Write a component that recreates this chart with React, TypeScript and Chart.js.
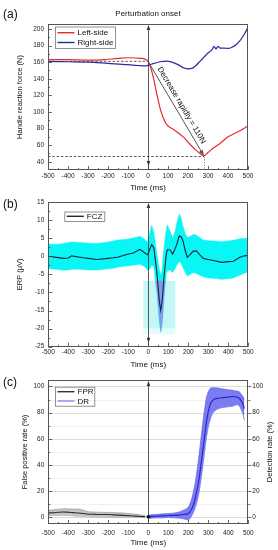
import React, { useEffect, useRef } from "react";
import { Chart, registerables } from "chart.js";

Chart.register(...registerables);

const FONT = "'Liberation Sans', Arial, Helvetica, sans-serif";

// ---------- tick labels ----------
const timeTicks = [-500, -400, -300, -200, -100, 0, 100, 200, 300, 400, 500];
const forceTicks = [40, 60, 80, 100, 120, 140, 160, 180, 200];
const erpTicks = [-25, -20, -15, -10, -5, 0, 5, 10, 15];
const rateTicks = [0, 20, 40, 60, 80, 100];

// ---------- panel (a): handle reaction force ----------
const leftSideTime = [-500, -400, -300, -250, -200, -150, -100, -60, -30, -10, 0, 10, 20, 30, 40, 50, 60, 70, 80, 90, 100, 120, 150, 180, 210, 240, 260, 280, 300, 330, 360, 400, 450, 500];
const leftSideForce = [163, 163, 162.5, 162.5, 163.5, 164.5, 165.3, 165, 164.5, 163, 161, 156, 148, 138, 126, 115, 105, 97, 91, 86, 83, 80, 75, 69, 61, 54, 50, 47, 51, 57, 62, 70, 76, 83];
const rightSideTime = [-500, -400, -300, -200, -100, -50, -10, 10, 30, 60, 90, 120, 150, 180, 200, 220, 240, 260, 280, 300, 320, 330, 340, 350, 360, 380, 400, 420, 440, 460, 480, 500];
const rightSideForce = [161, 160.5, 160, 158.5, 157, 156, 155.5, 157, 158.5, 160.5, 161.3, 160, 157, 153, 152, 152.5, 156, 161, 166, 171, 175, 179, 176, 179, 177, 177, 176.5, 178, 181, 186, 193, 202];
const onsetForce = 161;
const minForce = 47;
const minForceTime = 280;
const dropLabel = "Decrease rapidly = 110N";

// ---------- panel (b): ERP ----------
const erpTime = [-500, -450, -425, -400, -383, -350, -325, -300, -258, -200, -175, -150, -108, -75, -42, -17, -3, 8, 17, 28, 35, 42, 50, 55, 62, 68, 72, 78, 83, 90, 95, 108, 122, 135, 142, 155, 165, 172, 185, 195, 210, 225, 242, 260, 275, 300, 325, 367, 400, 425, 458, 480, 500];
const fczMean = [0, -0.4, -0.6, -0.5, 0.1, -0.2, -0.45, -0.6, -0.9, -0.6, -0.45, -0.2, 0.45, 0.9, 1.9, 0.9, 0.4, 2.0, 3.2, 2.3, -1, -4.1, -9, -12.3, -15, -13, -10.5, -6, -3.2, 0.5, 1.8, 1.8, 0.6, 2.2, 3.2, 5.6, 5.3, 4.5, 1.5, -0.3, 0.5, 1.4, 1.4, 0.2, -0.6, -0.9, -1.2, -1.7, -1.5, -1.4, -0.3, 0.1, 0.2];
const fczUpper = [3.3, 3.3, 3.5, 3.8, 3.9, 3.8, 3.7, 3.6, 3.5, 3.9, 4.2, 4.5, 4.7, 5.0, 5.5, 4.6, 3.8, 6.5, 8.6, 6.5, 3.5, 1, -2, -3.5, -5.5, -4, -1.5, 2, 4.5, 7.5, 8.6, 7, 5, 7, 9, 11.7, 10.5, 8.5, 6.2, 5.2, 5.5, 6, 5.8, 5, 4.5, 4.3, 4.2, 4, 4.2, 4.4, 4.8, 4.9, 5.0];
const fczLower = [-3.4, -3.7, -3.9, -3.8, -3.6, -3.6, -3.7, -3.8, -3.8, -3.5, -3.3, -3.0, -2.7, -2.5, -2.2, -2.9, -3.9, -3.5, -2.5, -3, -6.5, -9.5, -14.5, -18, -21, -19.5, -17, -12, -8.5, -5, -4, -3.8, -4.5, -3.3, -2.5, -1.5, -2, -3, -4.5, -5.5, -5, -4.5, -4.8, -5.3, -5.7, -6, -6.1, -6.4, -6.2, -6, -5.2, -4.7, -4.3];
const windowTime = [-25, 135];
const windowErp = [-6.8, -20, -21.5];

// ---------- panel (c): FPR / DR ----------
const fprTime = [-500, -475, -450, -425, -400, -375, -350, -325, -300, -275, -250, -225, -200, -175, -150, -125, -100, -75, -50, -25, -15];
const fprMean = [3.4, 3.6, 4, 4.2, 4, 3.7, 3.4, 3, 2.5, 2.4, 2.3, 2.3, 2.2, 2, 1.8, 1.6, 1.4, 1.1, 0.9, 0.6, 0.5];
const fprUpper = [5.4, 5.8, 6.3, 6.6, 6.5, 6.4, 6.4, 5.5, 4.4, 4.2, 4, 3.9, 3.8, 3.6, 3.5, 3.4, 3, 2.6, 2.2, 1.6, 1.4];
const fprLower = [1.5, 1.5, 1.6, 1.7, 1.5, 1.2, 1, 0.8, 0.5, 0.4, 0.3, 0.2, 0, 0, 0, 0, 0, 0, 0, 0, 0];
const drTime = [0, 25, 50, 75, 100, 125, 150, 175, 200, 210, 220, 230, 240, 250, 260, 270, 280, 290, 300, 310, 320, 330, 350, 375, 400, 425, 440, 455, 465, 475, 480];
const drMean = [0.5, 0.8, 1, 1.2, 1.5, 1.6, 1.8, 2.2, 3, 4.5, 7.5, 12, 18, 26, 36, 48, 60, 72, 81, 86.5, 89, 90.5, 91, 91.5, 92, 92.3, 92, 91, 89, 86, 83];
const drUpper = [1.8, 2.2, 2.5, 2.8, 3, 3.3, 4, 5.5, 8, 11, 16, 23, 32, 43, 56, 69, 81, 91, 96, 98.5, 99, 99, 98.8, 98, 97.5, 97, 96.5, 96, 94, 92, 90];
const drLower = [-0.8, -0.5, -0.3, -0.3, 0, -0.3, -0.5, -1, -2, -0.5, 2, 5.5, 10, 16, 25, 36, 48, 60, 69, 75, 79, 81, 83, 84, 84.5, 85, 86, 85, 82, 78, 74];

// ---------- helpers ----------
const pts = (xs: number[], ys: number[]) => xs.map((x, i) => ({ x, y: ys[i] }));

function timeScale(xHeight: number, tickPad: number, titlePad: number) {
  return {
    type: "linear",
    position: "bottom",
    min: -500,
    max: 500,
    afterBuildTicks: (s: any) => {
      s.ticks = timeTicks.map((v) => ({ value: v }));
    },
    afterFit: (s: any) => {
      s.height = xHeight;
    },
    grid: { display: false, drawTicks: false },
    border: { display: false },
    ticks: { font: { family: FONT, size: 6.5 }, color: "#222", padding: tickPad, maxRotation: 0, minRotation: 0, autoSkip: false },
    title: { display: true, text: "Time (ms)", font: { family: FONT, size: 8 }, color: "#111", padding: { top: 0, bottom: titlePad } },
  };
}

function valueScale(min: number, max: number, ticks: number[], title: string | null, titlePad: number, width: number, position = "left") {
  return {
    type: "linear",
    position,
    min,
    max,
    afterBuildTicks: (s: any) => {
      s.ticks = ticks.map((v) => ({ value: v }));
    },
    afterFit: (s: any) => {
      s.width = width;
    },
    grid: { display: false, drawTicks: false },
    border: { display: false },
    ticks: { font: { family: FONT, size: 6.5 }, color: "#222", padding: 4 },
    title: title
      ? { display: true, text: title, font: { family: FONT, size: 7.5 }, color: "#111", padding: { top: titlePad, bottom: 0 } }
      : { display: false },
  };
}

function arrowHead(ctx: CanvasRenderingContext2D, tx: number, ty: number, ang: number, len = 5, half = 1.8) {
  const c = Math.cos(ang), s = Math.sin(ang);
  ctx.beginPath();
  ctx.moveTo(tx, ty);
  ctx.lineTo(tx - len * c + half * s, ty - len * s - half * c);
  ctx.lineTo(tx - len * c - half * s, ty - len * s + half * c);
  ctx.closePath();
  ctx.fill();
}

function drawFrameAndTicks(chart: any, yId: string, yTicks: number[], rightId?: string) {
  const { ctx, chartArea: a, scales } = chart;
  const xs = scales.x;
  const ys = scales[yId];
  ctx.save();
  ctx.strokeStyle = "#444";
  ctx.lineWidth = 0.8;
  ctx.beginPath();
  for (let i = 0; i < timeTicks.length; i++) {
    const px = Math.round(xs.getPixelForValue(timeTicks[i])) + 0.5;
    ctx.moveTo(px, a.bottom);
    ctx.lineTo(px, a.bottom - 4);
    if (i < timeTicks.length - 1) {
      const mx = Math.round(xs.getPixelForValue((timeTicks[i] + timeTicks[i + 1]) / 2)) + 0.5;
      ctx.moveTo(mx, a.bottom);
      ctx.lineTo(mx, a.bottom - 2);
    }
  }
  const minors: number[] = [];
  for (let i = 0; i < yTicks.length - 1; i++) minors.push((yTicks[i] + yTicks[i + 1]) / 2);
  for (const v of yTicks) {
    const py = Math.round(ys.getPixelForValue(v)) + 0.5;
    ctx.moveTo(a.left, py);
    ctx.lineTo(a.left + 4, py);
    if (rightId) {
      ctx.moveTo(a.right, py);
      ctx.lineTo(a.right + 3, py);
    }
  }
  for (const v of minors) {
    const py = Math.round(ys.getPixelForValue(v)) + 0.5;
    ctx.moveTo(a.left, py);
    ctx.lineTo(a.left + 2, py);
    if (rightId) {
      ctx.moveTo(a.right, py);
      ctx.lineTo(a.right + 2, py);
    }
  }
  ctx.stroke();
  ctx.strokeStyle = "#555";
  ctx.lineWidth = 1;
  ctx.strokeRect(Math.round(a.left) + 0.5, Math.round(a.top) + 0.5, Math.round(a.right - a.left) - 1, Math.round(a.bottom - a.top) - 1);
  ctx.restore();
}

function drawLegend(ctx: CanvasRenderingContext2D, box: number[], items: { label: string; color: string; y: number }[]) {
  ctx.save();
  ctx.strokeStyle = "#777";
  ctx.lineWidth = 0.8;
  ctx.strokeRect(box[0] + 0.5, box[1] + 0.5, box[2], box[3]);
  ctx.font = `8px ${FONT}`;
  ctx.textBaseline = "middle";
  ctx.textAlign = "left";
  for (const it of items) {
    ctx.strokeStyle = it.color;
    ctx.lineWidth = 1.4;
    ctx.beginPath();
    ctx.moveTo(box[0] + 2.5, it.y);
    ctx.lineTo(box[0] + 19.5, it.y);
    ctx.stroke();
    ctx.fillStyle = "#111";
    ctx.fillText(it.label, box[0] + 22.5, it.y + 0.5);
  }
  ctx.restore();
}

function drawPanelLabel(ctx: CanvasRenderingContext2D, text: string, y: number) {
  ctx.save();
  ctx.font = `12px ${FONT}`;
  ctx.fillStyle = "#111";
  ctx.textAlign = "left";
  ctx.textBaseline = "middle";
  ctx.fillText(text, 3, y);
  ctx.restore();
}

const commonOpts = {
  responsive: false,
  animation: false,
  events: [],
  plugins: { legend: { display: false }, tooltip: { enabled: false } },
  elements: { point: { radius: 0, hoverRadius: 0 } },
};

// ---------- panel configs ----------
function configA(): any {
  const plugin = {
    id: "panelA",
    beforeDatasetsDraw(chart: any) {
      const { ctx, chartArea: a, scales } = chart;
      const xs = scales.x, ys = scales.y;
      ctx.save();
      ctx.strokeStyle = "#333";
      ctx.lineWidth = 0.8;
      ctx.setLineDash([2.5, 1.8]);
      ctx.beginPath();
      const yOn = ys.getPixelForValue(onsetForce);
      ctx.moveTo(a.left, yOn);
      ctx.lineTo(xs.getPixelForValue(0), yOn);
      const yMin = Math.round(ys.getPixelForValue(minForce)) + 0.5;
      ctx.moveTo(a.left, yMin);
      ctx.lineTo(xs.getPixelForValue(minForceTime), yMin);
      ctx.stroke();
      ctx.setLineDash([1.2, 1.5]);
      ctx.strokeStyle = "#666";
      ctx.beginPath();
      const xMin = Math.round(xs.getPixelForValue(minForceTime)) + 0.5;
      ctx.moveTo(xMin, yMin);
      ctx.lineTo(xMin, a.bottom);
      ctx.stroke();
      ctx.restore();
    },
    afterDatasetsDraw(chart: any) {
      const { ctx, chartArea: a, scales } = chart;
      const xs = scales.x, ys = scales.y;
      ctx.save();
      const x0 = Math.round(xs.getPixelForValue(0)) + 0.5;
      ctx.strokeStyle = "#333";
      ctx.fillStyle = "#333";
      ctx.lineWidth = 0.8;
      ctx.beginPath();
      ctx.moveTo(x0, a.top + 2);
      ctx.lineTo(x0, a.bottom);
      ctx.stroke();
      arrowHead(ctx, x0, a.top + 1, -Math.PI / 2, 5, 1.8);
      arrowHead(ctx, x0, a.bottom - 4, Math.PI / 2, 5, 1.8);

      // diagonal arrow
      const p0 = { x: xs.getPixelForValue(0), y: ys.getPixelForValue(onsetForce) };
      const p1 = { x: xs.getPixelForValue(minForceTime), y: ys.getPixelForValue(minForce) };
      const ang = Math.atan2(p1.y - p0.y, p1.x - p0.x);
      ctx.strokeStyle = "#555";
      ctx.fillStyle = "#555";
      ctx.lineWidth = 1;
      ctx.beginPath();
      ctx.moveTo(p0.x, p0.y);
      ctx.lineTo(p1.x - 3 * Math.cos(ang), p1.y - 3 * Math.sin(ang));
      ctx.stroke();
      arrowHead(ctx, p1.x, p1.y, ang, 6, 2);
      const mx = (p0.x + p1.x) / 2 + 6.5 * Math.sin(ang);
      const my = (p0.y + p1.y) / 2 - 6.5 * Math.cos(ang);
      ctx.translate(mx, my);
      ctx.rotate(ang);
      ctx.fillStyle = "#111";
      ctx.font = `8px ${FONT}`;
      ctx.textAlign = "center";
      ctx.textBaseline = "middle";
      ctx.fillText(dropLabel, 0, 0);
      ctx.restore();

      drawFrameAndTicks(chart, "y", forceTicks);
      drawLegend(ctx, [55, 26.5, 60, 21.5], [
        { label: "Left-side", color: "#ec2a2a", y: 32.7 },
        { label: "Right-side", color: "#2b2b9e", y: 42.5 },
      ]);
      ctx.save();
      ctx.font = `8px ${FONT}`;
      ctx.fillStyle = "#111";
      ctx.textAlign = "center";
      ctx.textBaseline = "middle";
      ctx.fillText("Perturbation onset", xs.getPixelForValue(0), 14);
      ctx.restore();
      drawPanelLabel(ctx, "(a)", 15);
    },
  };
  return {
    type: "line",
    data: {
      datasets: [
        { data: pts(leftSideTime, leftSideForce), borderColor: "#ec2a2a", borderWidth: 1.2, cubicInterpolationMode: "monotone", fill: false },
        { data: pts(rightSideTime, rightSideForce), borderColor: "#2b2b9e", borderWidth: 1.2, cubicInterpolationMode: "monotone", fill: false },
      ],
    },
    options: {
      ...commonOpts,
      layout: { padding: { top: 24, right: 30, left: 0, bottom: 0 } },
      scales: {
        x: timeScale(24, 2, 1.2),
        y: valueScale(30, 206, forceTicks, "Handle reaction force (N)", 15, 48),
      },
    },
    plugins: [plugin],
  };
}

function configB(): any {
  const plugin = {
    id: "panelB",
    beforeDatasetsDraw(chart: any) {
      const { ctx, scales } = chart;
      const xs = scales.x, ys = scales.y;
      const l = xs.getPixelForValue(windowTime[0]);
      const r = xs.getPixelForValue(windowTime[1]);
      const t = ys.getPixelForValue(windowErp[0]);
      const m = ys.getPixelForValue(windowErp[1]);
      const b = ys.getPixelForValue(windowErp[2]);
      ctx.save();
      ctx.fillStyle = "#c4f6f6";
      ctx.fillRect(l, t, r - l, m - t);
      ctx.fillStyle = "#e2fbfb";
      ctx.fillRect(l, m, r - l, b - m);
      ctx.restore();
    },
    afterDatasetDraw(chart: any, args: any) {
      if (args.index !== 1) return;
      const { ctx, scales } = chart;
      const xs = scales.x, ys = scales.y;
      const l = xs.getPixelForValue(windowTime[0]);
      const r = xs.getPixelForValue(windowTime[1]);
      const t = ys.getPixelForValue(windowErp[0]);
      const b = ys.getPixelForValue(windowErp[2]);
      ctx.save();
      ctx.beginPath();
      ctx.rect(l, t, r - l, b - t);
      ctx.clip();
      ctx.beginPath();
      erpTime.forEach((x, i) => {
        const px = xs.getPixelForValue(x), py = ys.getPixelForValue(fczUpper[i]);
        if (i === 0) ctx.moveTo(px, py);
        else ctx.lineTo(px, py);
      });
      for (let i = erpTime.length - 1; i >= 0; i--) {
        ctx.lineTo(xs.getPixelForValue(erpTime[i]), ys.getPixelForValue(fczLower[i]));
      }
      ctx.closePath();
      ctx.fillStyle = "#8698ee";
      ctx.fill();
      ctx.restore();
    },
    afterDatasetsDraw(chart: any) {
      const { ctx, chartArea: a, scales } = chart;
      const xs = scales.x;
      ctx.save();
      const x0 = Math.round(xs.getPixelForValue(0)) + 0.5;
      ctx.strokeStyle = "#333";
      ctx.fillStyle = "#333";
      ctx.lineWidth = 0.8;
      ctx.beginPath();
      ctx.moveTo(x0, a.top + 2);
      ctx.lineTo(x0, a.bottom);
      ctx.stroke();
      arrowHead(ctx, x0, a.top + 1, -Math.PI / 2, 5, 1.8);
      arrowHead(ctx, x0, a.bottom - 4, Math.PI / 2, 5, 1.8);
      ctx.restore();
      drawFrameAndTicks(chart, "y", erpTicks);
      drawLegend(ctx, [64.3, 17.5, 40, 9.5], [{ label: "FCZ", color: "#1a2a3a", y: 22.3 }]);
      drawPanelLabel(ctx, "(b)", 11);
    },
  };
  return {
    type: "line",
    data: {
      datasets: [
        { data: pts(erpTime, fczMean), borderColor: "#14263a", borderWidth: 1.1, tension: 0, fill: false },
        { data: pts(erpTime, fczUpper), borderColor: "#08f4f4", borderWidth: 0.5, backgroundColor: "#08f6f6", tension: 0, fill: "+1" },
        { data: pts(erpTime, fczLower), borderColor: "#08f4f4", borderWidth: 0.5, tension: 0, fill: false },
      ],
    },
    options: {
      ...commonOpts,
      layout: { padding: { top: 6, right: 29.7, left: 0, bottom: 0 } },
      scales: {
        x: timeScale(25.3, 2, 2.2),
        y: valueScale(-25, 15, erpTicks, "ERP (μV)", 15.5, 48.3),
      },
    },
    plugins: [plugin],
  };
}

function configC(): any {
  const plugin = {
    id: "panelC",
    beforeDatasetsDraw(chart: any) {
      const { ctx, chartArea: a, scales } = chart;
      const ys = scales.y;
      ctx.save();
      ctx.lineWidth = 0.8;
      for (let i = 0; i < rateTicks.length; i++) {
        const py = Math.round(ys.getPixelForValue(rateTicks[i])) + 0.5;
        ctx.strokeStyle = "#d4d4d4";
        ctx.beginPath();
        ctx.moveTo(a.left, py);
        ctx.lineTo(a.right, py);
        ctx.stroke();
        if (i < rateTicks.length - 1) {
          const pm = Math.round(ys.getPixelForValue((rateTicks[i] + rateTicks[i + 1]) / 2)) + 0.5;
          ctx.strokeStyle = "#ededed";
          ctx.beginPath();
          ctx.moveTo(a.left, pm);
          ctx.lineTo(a.right, pm);
          ctx.stroke();
        }
      }
      ctx.restore();
    },
    afterDatasetsDraw(chart: any) {
      const { ctx, chartArea: a, scales } = chart;
      const xs = scales.x, ys = scales.y;
      ctx.save();
      const x0 = Math.round(xs.getPixelForValue(0)) + 0.5;
      ctx.strokeStyle = "#333";
      ctx.fillStyle = "#333";
      ctx.lineWidth = 0.8;
      ctx.beginPath();
      ctx.moveTo(x0, a.top + 2);
      ctx.lineTo(x0, a.bottom);
      ctx.stroke();
      arrowHead(ctx, x0, a.top + 1, -Math.PI / 2, 5, 1.8);
      ctx.fillStyle = "#111";
      ctx.beginPath();
      ctx.arc(xs.getPixelForValue(drTime[0]), ys.getPixelForValue(drMean[0]), 1.8, 0, Math.PI * 2);
      ctx.fill();
      // right axis title (reads bottom to top)
      ctx.translate(270, (a.top + a.bottom) / 2);
      ctx.rotate(-Math.PI / 2);
      ctx.font = `7.5px ${FONT}`;
      ctx.textAlign = "center";
      ctx.textBaseline = "middle";
      ctx.fillText("Detection rate (%)", 0, 0);
      ctx.restore();
      drawFrameAndTicks(chart, "y", rateTicks, "y2");
      drawLegend(ctx, [55, 14.7, 39.3, 19], [
        { label: "FPR", color: "#333333", y: 19.7 },
        { label: "DR", color: "#8a8ae6", y: 29 },
      ]);
      drawPanelLabel(ctx, "(c)", 11);
    },
  };
  return {
    type: "line",
    data: {
      datasets: [
        { data: pts(drTime, drMean), borderColor: "#2424c8", borderWidth: 1.1, cubicInterpolationMode: "monotone", fill: false },
        { data: pts(fprTime, fprMean), borderColor: "#2a2a2a", borderWidth: 1.1, cubicInterpolationMode: "monotone", fill: false },
        { data: pts(drTime, drUpper), borderColor: "#5656e0", borderWidth: 0.6, backgroundColor: "#7b7bf2", cubicInterpolationMode: "monotone", fill: "+1" },
        { data: pts(drTime, drLower), borderColor: "#5656e0", borderWidth: 0.6, cubicInterpolationMode: "monotone", fill: false },
        { data: pts(fprTime, fprUpper), borderColor: "#8a8a8a", borderWidth: 0.6, backgroundColor: "#c6c6c6", cubicInterpolationMode: "monotone", fill: "+1" },
        { data: pts(fprTime, fprLower), borderColor: "#8a8a8a", borderWidth: 0.6, cubicInterpolationMode: "monotone", fill: false },
      ],
    },
    options: {
      ...commonOpts,
      layout: { padding: { top: 3, right: 0, left: 0, bottom: 0 } },
      scales: {
        x: timeScale(26, 5, 2.2),
        y: valueScale(-5, 105, rateTicks, "False positive rate (%)", 20.5, 48.3),
        y2: valueScale(-5, 105, rateTicks, null, 0, 29.7, "right"),
      },
    },
    plugins: [plugin],
  };
}

function ChartCanvas({ top, height, build }: { top: number; height: number; build: () => any }) {
  const ref = useRef<HTMLCanvasElement>(null);
  useEffect(() => {
    const chart = new Chart(ref.current as HTMLCanvasElement, build());
    return () => chart.destroy();
  }, []);
  return (
    <canvas
      ref={ref}
      width={278}
      height={height}
      style={{ position: "absolute", left: 0, top, width: 278, height, display: "block" }}
    />
  );
}

export default function App() {
  return (
    <div style={{ position: "absolute", left: 0, top: 0, width: 278, height: 550, background: "#fff" }}>
      <ChartCanvas top={0} height={194} build={configA} />
      <ChartCanvas top={194} height={178} build={configB} />
      <ChartCanvas top={372} height={178} build={configC} />
    </div>
  );
}
